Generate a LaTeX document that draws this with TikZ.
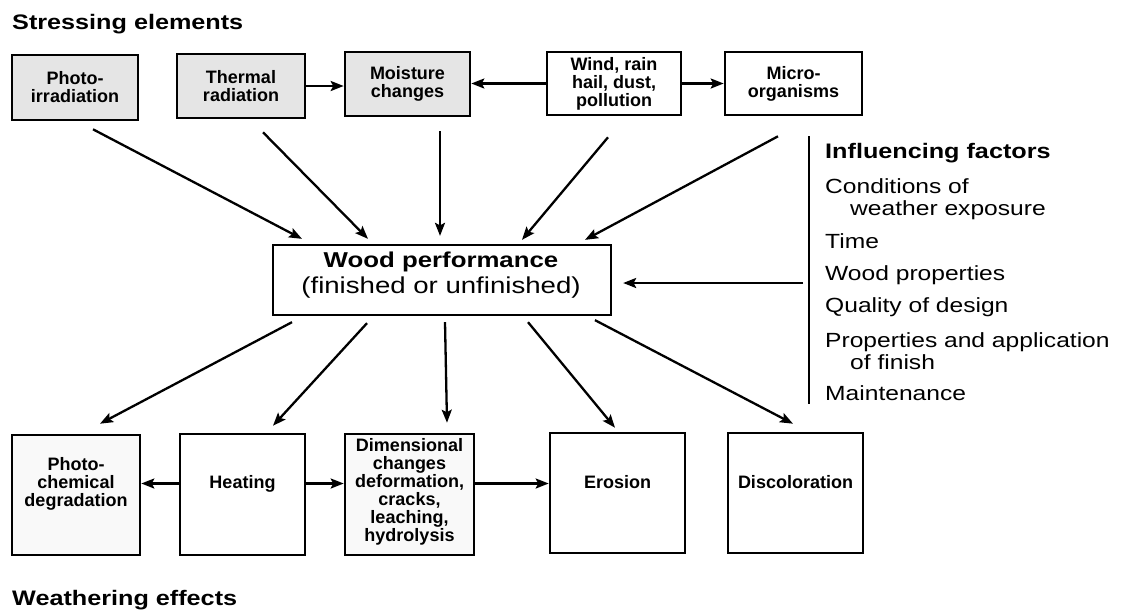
\documentclass[tikz,border=0pt]{standalone}
\usepackage{fontspec}
\setmainfont{Liberation Sans}
\newfontfamily\hdfont[FakeStretch=1.2]{Liberation Sans}
\usetikzlibrary{arrows.meta,calc}
\begin{document}
\begin{tikzpicture}[x=1pt,y=-1pt,
  box/.style={draw,line width=2.6pt,inner sep=0pt,align=center,font=\fontsize{18}{18}\selectfont\bfseries},
  btxt/.style={inner sep=0pt,align=center,font=\fontsize{18}{18}\selectfont\bfseries},
  shaded/.style={fill=gray!20},
  arr/.style={line width=2.3pt,-{Stealth[length=13pt,width=10pt,inset=2.5pt]}},
  hd/.style={font=\hdfont\fontsize{21}{24}\selectfont\bfseries,anchor=base west,inner sep=0pt},
  fac/.style={font=\hdfont\fontsize{20.5}{24}\selectfont,anchor=base west,inner sep=0pt}]
\useasboundingbox (0,0) rectangle (1122,614);
\fill[white] (0,0) rectangle (1122,614);

% titles
\node[hd] (t1) at (12,29) {Stressing elements};
\node[hd] (t2) at (12,605) {Weathering effects};

% top row
\node[box,shaded,minimum width=126pt,minimum height=65pt] (ph) at (75,87.5) {Photo-\\irradiation};
\node[box,shaded,minimum width=128pt,minimum height=64pt] (th) at (241,86) {Thermal\\radiation};
\node[box,shaded,minimum width=125pt,minimum height=64pt] (mo) at (407.5,84) {Moisture\\changes};
\node[box,minimum width=134pt,minimum height=63pt] (wi) at (614,83.5) {Wind, rain\\hail, dust,\\pollution};
\node[box,minimum width=137pt,minimum height=63pt] (mi) at (793.5,83.5) {Micro-\\organisms};

\draw[arr] (th.east) -- (th.east -| mo.west);
\draw[arr] (wi.west) -- (wi.west -| mo.east);
\draw[arr] (wi.east) -- (wi.east -| mi.west);

% wood performance
\node[draw,line width=2.3pt,minimum width=338pt,minimum height=70pt] (wood) at (442,280) {};
\node[font=\hdfont\fontsize{21.5}{24}\selectfont\bfseries,anchor=base,inner sep=0pt] (w1) at (441,267) {Wood performance};
\node[font=\hdfont\fontsize{23}{24}\selectfont,anchor=base,inner sep=0pt] (w2) at (441,293) {(finished or unfinished)};

% arrows into wood
\draw[arr] ([shift={(18,8)}]ph.south) -- ([shift={(-140,-5)}]wood.north);
\draw[arr] ([shift={(22,13)}]th.south) -- ([shift={(-74,-5)}]wood.north);
\draw[arr] ([shift={(32.5,14)}]mo.south) -- ([shift={(-2,-8)}]wood.north);
\draw[arr] ([shift={(-6,21)}]wi.south) -- ([shift={(80,-4)}]wood.north);
\draw[arr] ([shift={(-15.5,20)}]mi.south) -- ([shift={(143,-4)}]wood.north);

% influencing factors
\coordinate (if1) at (809,136);
\coordinate (if2) at (809,404);
\coordinate (ifa) at (803,283);
\draw[line width=1.8pt] (if1) -- (if2);
\draw[arr] (ifa) -- ([shift={(11,3)}]wood.east);
\node[hd] (f0) at (825,158) {Influencing factors};
\node[fac] (f1) at (825,193) {Conditions of};
\node[fac] (f1b) at (850,215) {weather exposure};
\node[fac] (f2) at (825,248) {Time};
\node[fac] (f3) at (825,280) {Wood properties};
\node[fac] (f4) at (825,312) {Quality of design};
\node[fac] (f5) at (825,347) {Properties and application};
\node[fac] (f5b) at (850,369) {of finish};
\node[fac] (f6) at (825,400) {Maintenance};

% bottom row
\node[box,fill=gray!5,minimum width=128pt,minimum height=120pt] (pc) at (76,495) {};
\node[btxt] (pct) at ($(pc.center)+(0,-11)$) {Photo-\\chemical\\degradation};
\node[box,minimum width=125pt,minimum height=121pt] (he) at (242.5,494.5) {};
\node[btxt] (het) at ($(he.center)+(0,-11)$) {Heating};
\node[box,fill=gray!5,minimum width=129pt,minimum height=121pt] (di) at (409.5,494.5) {};
\node[btxt] (dit) at ($(di.center)+(0,-3)$) {Dimensional\\changes\\deformation,\\cracks,\\leaching,\\hydrolysis};
\node[box,minimum width=135pt,minimum height=120pt] (er) at (617.5,493) {};
\node[btxt] (ert) at ($(er.center)+(0,-11)$) {Erosion};
\node[box,minimum width=135pt,minimum height=120pt] (dc) at (795.5,493) {};
\node[btxt] (dct) at ($(dc.center)+(0,-11)$) {Discoloration};

\draw[arr] ([shift={(0,-11)}]he.west) -- ([shift={(0,-11)}]he.west -| pc.east);
\draw[arr] ([shift={(0,-11)}]he.east) -- ([shift={(0,-11)}]he.east -| di.west);
\draw[arr] ([shift={(0,-11)}]di.east) -- ([shift={(0,-11)}]di.east -| er.west);

% arrows out of wood
\draw[arr] ([shift={(-150,6)}]wood.south) -- ([shift={(24,-10)}]pc.north);
\draw[arr] ([shift={(-75,7)}]wood.south) -- ([shift={(30.5,-7)}]he.north);
\draw[arr] ([shift={(3,6)}]wood.south) -- ([shift={(37.5,-10)}]di.north);
\draw[arr] ([shift={(86,6)}]wood.south) -- ([shift={(-2.5,-4)}]er.north);
\draw[arr] ([shift={(153,4)}]wood.south) -- ([shift={(-2.5,-8)}]dc.north);
\end{tikzpicture}
\end{document}
